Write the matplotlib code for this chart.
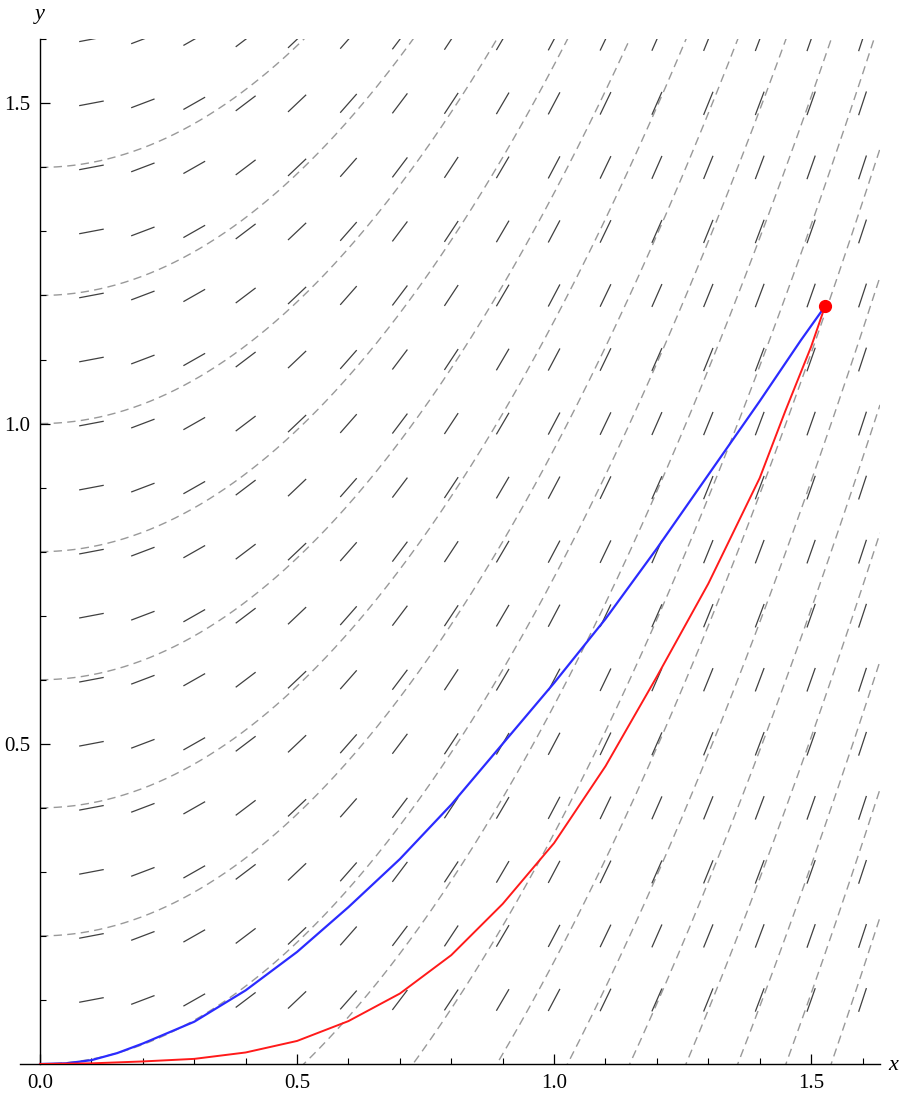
import numpy as np
import matplotlib
matplotlib.use("Agg")
import matplotlib.pyplot as plt
from matplotlib.collections import LineCollection

# ---------------- data ----------------
# slope field dy/dx = SLOPE_K * x
SLOPE_K = 1.52
field_x = [0.1, 0.2, 0.3, 0.4, 0.5, 0.6, 0.7, 0.8, 0.9, 1.0, 1.1, 1.2, 1.3, 1.4, 1.5, 1.6]
field_y = [0.1, 0.2, 0.3, 0.4, 0.5, 0.6, 0.7, 0.8, 0.9, 1.0, 1.1, 1.2, 1.3, 1.4, 1.5, 1.6]
# constants of the dashed integral curves y = C + (SLOPE_K/2) x^2
curve_consts = [-1.8, -1.6, -1.4, -1.2, -1.0, -0.8, -0.6, -0.4, -0.2, 0.0,
                0.2, 0.4, 0.6, 0.8, 1.0, 1.2, 1.4]

blue_x = [0.0, 0.05, 0.1, 0.15, 0.2, 0.3, 0.4, 0.5, 0.6, 0.7, 0.8, 0.9, 1.0, 1.1, 1.2, 1.3, 1.4, 1.48, 1.527]
blue_y = [0.0, 0.001, 0.006, 0.017, 0.032, 0.066, 0.115, 0.175, 0.245, 0.32, 0.405, 0.50, 0.595, 0.695, 0.805, 0.92, 1.035, 1.13, 1.183]

red_x = [0.0, 0.1, 0.2, 0.3, 0.4, 0.5, 0.6, 0.7, 0.8, 0.9, 1.0, 1.1, 1.2, 1.3, 1.4, 1.45, 1.5, 1.527]
red_y = [0.0, 0.001, 0.004, 0.008, 0.018, 0.036, 0.067, 0.11, 0.17, 0.25, 0.345, 0.465, 0.605, 0.75, 0.915, 1.02, 1.12, 1.183]

point_x, point_y = 1.527, 1.183

x_major = [0.0, 0.5, 1.0, 1.5]
x_major_labels = ["0.0", "0.5", "1.0", "1.5"]
y_major = [0.5, 1.0, 1.5]
y_major_labels = ["0.5", "1.0", "1.5"]
minor_ticks = [0.1, 0.2, 0.3, 0.4, 0.6, 0.7, 0.8, 0.9, 1.1, 1.2, 1.3, 1.4, 1.6]

# ---------------- figure ----------------
W, H = 900, 1094
fig = plt.figure(figsize=(W / 100, H / 100), dpi=100)
ax = fig.add_axes([20 / W, 30 / H, 860 / W, (1064 - 39.3) / H])
ax.set_xlim(-0.039, 1.634)
ax.set_ylim(0, 1.6)

for s in ("top", "right"):
    ax.spines[s].set_visible(False)
ax.spines["left"].set_position(("data", 0))
ax.spines["bottom"].set_position(("data", 0))
for s in ("left", "bottom"):
    ax.spines[s].set_linewidth(1.0)

font = dict(family="Liberation Serif", size=15)
ax.set_xticks(x_major)
ax.set_xticklabels(x_major_labels, **font)
ax.set_yticks(y_major)
ax.set_yticklabels(y_major_labels, **font)
ax.set_xticks(minor_ticks, minor=True)
ax.set_yticks(minor_ticks, minor=True)
ax.tick_params(which="major", direction="in", length=7, width=0.9, pad=7)
ax.tick_params(which="minor", direction="in", length=4, width=0.8)

# slope field segments, constant on-screen length
fig.canvas.draw()
p0 = ax.transData.transform((0, 0))
p1 = ax.transData.transform((1, 1))
sx, sy = p1[0] - p0[0], p1[1] - p0[1]
L = 25.0
segs = []
for xv in field_x:
    for yv in field_y:
        m = SLOPE_K * xv
        dxp = L / np.sqrt(1 + (m * sy / sx) ** 2)
        dx = dxp / sx
        dy = m * dx
        segs.append([(xv - dx / 2, yv - dy / 2), (xv + dx / 2, yv + dy / 2)])
ax.add_collection(LineCollection(segs, colors="#404040", linewidths=0.9, zorder=2))

# dashed integral curves
xx = np.linspace(0, 1.634, 400)
for c in curve_consts:
    ax.plot(xx, c + SLOPE_K / 2 * xx ** 2, color="#999999", lw=1.0,
            dashes=(6, 3.8), zorder=1)

ax.plot(blue_x, blue_y, color="#2b2bff", lw=1.6, zorder=3)
ax.plot(red_x, red_y, color="#ff1a1a", lw=1.4, zorder=3)
ax.plot([point_x], [point_y], "o", color="#ff0000", ms=8.5, zorder=4)

fig.text(893 / W, 1 - 1066 / H, "x", ha="center", va="center",
         family="Liberation Serif", style="italic", size=16)
fig.text(40 / W, 1 - 15 / H, "y", ha="center", va="center",
         family="Liberation Serif", style="italic", size=16)

fig.savefig("out.png", dpi=100)
